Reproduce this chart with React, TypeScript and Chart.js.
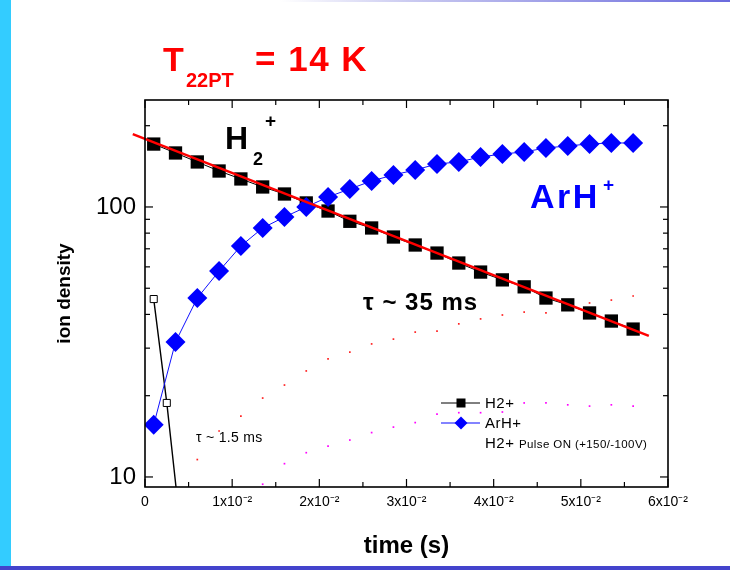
import React, { useEffect, useRef } from 'react';
import { Chart, registerables } from 'chart.js';

Chart.register(...registerables);

const FONT = "'Liberation Sans', Arial, Helvetica, sans-serif";

// ---- data ----
const times = [0.001, 0.0035, 0.006, 0.0085, 0.011, 0.0135, 0.016, 0.0185, 0.021, 0.0235, 0.026, 0.0285, 0.031, 0.0335, 0.036, 0.0385, 0.041, 0.0435, 0.046, 0.0485, 0.051, 0.0535, 0.056];
const h2Values = [171, 158.5, 146.8, 135.9, 127.0, 118.6, 111.7, 103.5, 96.6, 88.5, 83.6, 77.4, 72.3, 67.5, 62.0, 57.4, 53.7, 50.6, 46.0, 43.4, 40.5, 37.8, 35.3];
const arhValues = [15.6, 31.6, 46.0, 57.9, 71.7, 83.6, 91.8, 100, 108.9, 116.6, 124.8, 131.4, 137.1, 144.3, 146.8, 153.2, 157.1, 159.9, 165.4, 168.3, 171.2, 172.6, 172.6];

const pulseTimes = [0.001, 0.0025, 0.004];
const pulseValues = [45.6, 18.8, 6.8];

const fitTimes = [-0.0014, 0.0578];
const fitValues = [186, 33.3];

const redTimes = [0.006, 0.0085, 0.011, 0.0135, 0.016, 0.0185, 0.021, 0.0235, 0.026, 0.0285, 0.031, 0.0335, 0.036, 0.0385, 0.041, 0.0435, 0.046, 0.0485, 0.051, 0.0535, 0.056];
const redValues = [11.6, 14.8, 16.8, 19.6, 21.9, 24.7, 27.4, 29.0, 31.1, 32.4, 34.4, 34.7, 36.9, 38.5, 39.8, 40.8, 40.5, 42.6, 44.1, 45.2, 46.8];

const magTimes = [0.0135, 0.016, 0.0185, 0.021, 0.0235, 0.026, 0.0285, 0.031, 0.0335, 0.036, 0.0385, 0.041, 0.0435, 0.046, 0.0485, 0.051, 0.0535, 0.056];
const magValues = [9.4, 11.2, 12.3, 13.0, 13.7, 14.6, 15.3, 15.9, 17.1, 17.3, 17.3, 17.4, 18.8, 18.8, 18.5, 18.3, 18.5, 18.3];

const xMajorTicks = [0, 0.01, 0.02, 0.03, 0.04, 0.05, 0.06];
const xMinorTicks = [0.005, 0.015, 0.025, 0.035, 0.045, 0.055];
const xTickLabels = ['0', '1x10⁻²', '2x10⁻²', '3x10⁻²', '4x10⁻²', '5x10⁻²', '6x10⁻²'];
const yMajorTicks = [10, 100];
const yMinorTicks = [20, 30, 40, 50, 60, 70, 80, 90, 200];
const yTickLabels = ['10', '100'];

const pts = (xs: number[], ys: number[]) => xs.map((x, i) => ({ x, y: ys[i] }));

const overlayPlugin = {
  id: 'overlay',
  afterDraw(chart: any) {
    const { ctx, chartArea: a, scales } = chart;
    const xs = scales.x;
    const ys = scales.y;
    ctx.save();
    ctx.strokeStyle = '#000';
    ctx.lineWidth = 1.6;
    ctx.strokeRect(a.left, a.top, a.right - a.left, a.bottom - a.top);
    ctx.lineWidth = 1.2;
    const seg = (x1: number, y1: number, x2: number, y2: number) => {
      ctx.beginPath();
      ctx.moveTo(x1, y1);
      ctx.lineTo(x2, y2);
      ctx.stroke();
    };
    xMajorTicks.forEach((v) => {
      const p = xs.getPixelForValue(v);
      seg(p, a.bottom, p, a.bottom - 8);
      seg(p, a.top, p, a.top + 8);
    });
    xMinorTicks.forEach((v) => {
      const p = xs.getPixelForValue(v);
      seg(p, a.bottom, p, a.bottom - 5);
      seg(p, a.top, p, a.top + 5);
    });
    yMajorTicks.forEach((v) => {
      const p = ys.getPixelForValue(v);
      seg(a.left, p, a.left + 8, p);
      seg(a.right, p, a.right - 8, p);
    });
    yMinorTicks.forEach((v) => {
      const p = ys.getPixelForValue(v);
      seg(a.left, p, a.left + 5, p);
      seg(a.right, p, a.right - 5, p);
    });

    const txt = (s: string, x: number, y: number, font: string, color: string, spacing = '0px', baseline = 'alphabetic') => {
      ctx.font = font;
      ctx.fillStyle = color;
      ctx.textAlign = 'left';
      ctx.textBaseline = baseline;
      (ctx as any).letterSpacing = spacing;
      ctx.fillText(s, x, y);
      (ctx as any).letterSpacing = '0px';
    };

    // title
    txt('T', 163, 71, `bold 34px ${FONT}`, '#ff0000');
    txt('22PT', 186, 87, `bold 20px ${FONT}`, '#ff0000');
    txt('= 14 K', 255, 71, `bold 35px ${FONT}`, '#ff0000', '1.5px');

    // H2+ label
    txt('H', 225, 149, `bold 32px ${FONT}`, '#000');
    txt('2', 253, 165, `bold 18px ${FONT}`, '#000');
    txt('+', 265, 127, `bold 19px ${FONT}`, '#000');

    // ArH+ label
    txt('ArH', 530, 208, `bold 34px ${FONT}`, '#0000ff', '2.5px');
    txt('+', 603, 191, `bold 19px ${FONT}`, '#0000ff');

    // tau labels
    txt('τ ~ 35 ms', 363, 310, `bold 24px ${FONT}`, '#000', '1px');
    txt('τ ~ 1.5 ms', 196, 442, `14px ${FONT}`, '#000', '0.3px');

    // legend
    const lx1 = 441;
    const lx2 = 480;
    const lc = 461;
    const tx = 485;
    ctx.lineWidth = 1;
    ctx.strokeStyle = '#000';
    seg(lx1, 403, lx2, 403);
    ctx.fillStyle = '#000';
    ctx.fillRect(lc - 4.5, 403 - 4.5, 9, 9);
    txt('H2+', tx, 404, `15px ${FONT}`, '#000', '0.5px', 'middle');

    ctx.strokeStyle = '#5a5aff';
    ctx.lineWidth = 1.5;
    seg(lx1, 423, lx2, 423);
    ctx.fillStyle = '#0000ff';
    ctx.beginPath();
    ctx.moveTo(lc - 6.5, 423);
    ctx.lineTo(lc, 423 - 6.5);
    ctx.lineTo(lc + 6.5, 423);
    ctx.lineTo(lc, 423 + 6.5);
    ctx.closePath();
    ctx.fill();
    txt('ArH+', tx, 424, `15px ${FONT}`, '#000', '0.5px', 'middle');

    txt('H2+', tx, 444, `15px ${FONT}`, '#000', '0.5px', 'middle');
    ctx.font = `15px ${FONT}`;
    const w = ctx.measureText('H2+').width + 6;
    txt('Pulse ON (+150/-100V)', tx + w, 445, `11.5px ${FONT}`, '#000', '0.4px', 'middle');

    ctx.restore();
  },
};

export default function App() {
  const ref = useRef<HTMLCanvasElement | null>(null);

  useEffect(() => {
    if (!ref.current) return;
    Chart.defaults.font.family = FONT;
    Chart.defaults.color = '#000';
    const chart = new Chart(ref.current, {
      type: 'line',
      data: {
        datasets: [
          {
            label: 'fit',
            data: pts(fitTimes, fitValues),
            borderColor: '#ff0000',
            borderWidth: 2.5,
            pointRadius: 0,
            clip: false,
            order: 0,
          } as any,
          {
            label: 'ArH+',
            data: pts(times, arhValues),
            borderColor: '#1010ff',
            borderWidth: 1,
            pointStyle: 'rectRot',
            pointRadius: 10,
            pointBackgroundColor: '#0000ff',
            pointBorderColor: '#0000ff',
            pointBorderWidth: 0,
            order: 1,
          },
          {
            label: 'H2+',
            data: pts(times, h2Values),
            borderColor: '#000',
            borderWidth: 1,
            pointStyle: 'rect',
            pointRadius: 9.4,
            pointBackgroundColor: '#000',
            pointBorderColor: '#000',
            pointBorderWidth: 0,
            order: 2,
          },
          {
            label: 'H2+ Pulse ON (+150/-100V)',
            data: pts(pulseTimes, pulseValues),
            borderColor: '#000',
            borderWidth: 1.4,
            pointStyle: 'rect',
            pointRadius: 5,
            pointBackgroundColor: '#fff',
            pointBorderColor: '#000',
            pointBorderWidth: 1,
            order: 3,
          },
          {
            label: 'red',
            data: pts(redTimes, redValues),
            showLine: false,
            pointStyle: 'rect',
            pointRadius: 1.2,
            pointBackgroundColor: '#ff2020',
            pointBorderWidth: 0,
            order: 4,
          },
          {
            label: 'magenta',
            data: pts(magTimes, magValues),
            showLine: false,
            pointStyle: 'rect',
            pointRadius: 1.2,
            pointBackgroundColor: '#ff00ff',
            pointBorderWidth: 0,
            order: 5,
          },
        ],
      },
      options: {
        responsive: false,
        animation: false,
        devicePixelRatio: 1,
        layout: { padding: { left: 0, top: 100, right: 62, bottom: 0 } },
        plugins: { legend: { display: false }, tooltip: { enabled: false }, title: { display: false } },
        scales: {
          x: {
            type: 'linear',
            min: 0,
            max: 0.06,
            grid: { display: false, drawTicks: false },
            border: { display: false },
            ticks: {
              padding: 7,
              maxRotation: 0,
              autoSkip: false,
              color: '#000',
              font: { size: 14, family: FONT },
              callback: (v: any) => {
                const i = xMajorTicks.findIndex((t) => Math.abs(t - Number(v)) < 1e-9);
                return i >= 0 ? xTickLabels[i] : '';
              },
            },
            afterBuildTicks: (s: any) => {
              s.ticks = xMajorTicks.map((v) => ({ value: v }));
            },
            afterFit: (s: any) => {
              s.height = 83;
            },
            title: {
              display: true,
              text: 'time (s)',
              color: '#000',
              font: { size: 24, weight: 'bold', family: FONT },
              padding: { top: 0, bottom: 9 },
            },
          },
          y: {
            type: 'logarithmic',
            min: 9.18,
            max: 249,
            grid: { display: false, drawTicks: false },
            border: { display: false },
            ticks: {
              padding: 9,
              color: '#000',
              font: { size: 24, family: FONT },
              callback: (v: any) => {
                const i = yMajorTicks.findIndex((t) => Math.abs(t - Number(v)) < 1e-9);
                return i >= 0 ? yTickLabels[i] : '';
              },
            },
            afterBuildTicks: (s: any) => {
              s.ticks = yMajorTicks.map((v) => ({ value: v }));
            },
            afterFit: (s: any) => {
              s.width = 145;
            },
            title: {
              display: true,
              text: 'ion density',
              color: '#000',
              font: { size: 19, weight: 'bold', family: FONT },
              padding: { top: 53, bottom: 0 },
            },
          },
        },
      } as any,
      plugins: [overlayPlugin],
    });
    return () => chart.destroy();
  }, []);

  return (
    <div style={{ position: 'absolute', left: 0, top: 0, width: 730, height: 570, background: '#fff', overflow: 'hidden' }}>
      <div style={{ position: 'absolute', left: 0, top: 0, width: 11, height: 567, background: '#33ccff' }} />
      <div style={{ position: 'absolute', left: 0, top: 566, width: 730, height: 4, background: '#4343cc' }} />
      <div style={{ position: 'absolute', left: 280, top: 0, width: 450, height: 2, background: 'linear-gradient(to right, #ffffff, #c8c8f0 30%, #6a6add)' }} />
      <canvas ref={ref} width={730} height={570} style={{ position: 'absolute', left: 0, top: 0, width: 730, height: 570 }} />
    </div>
  );
}
